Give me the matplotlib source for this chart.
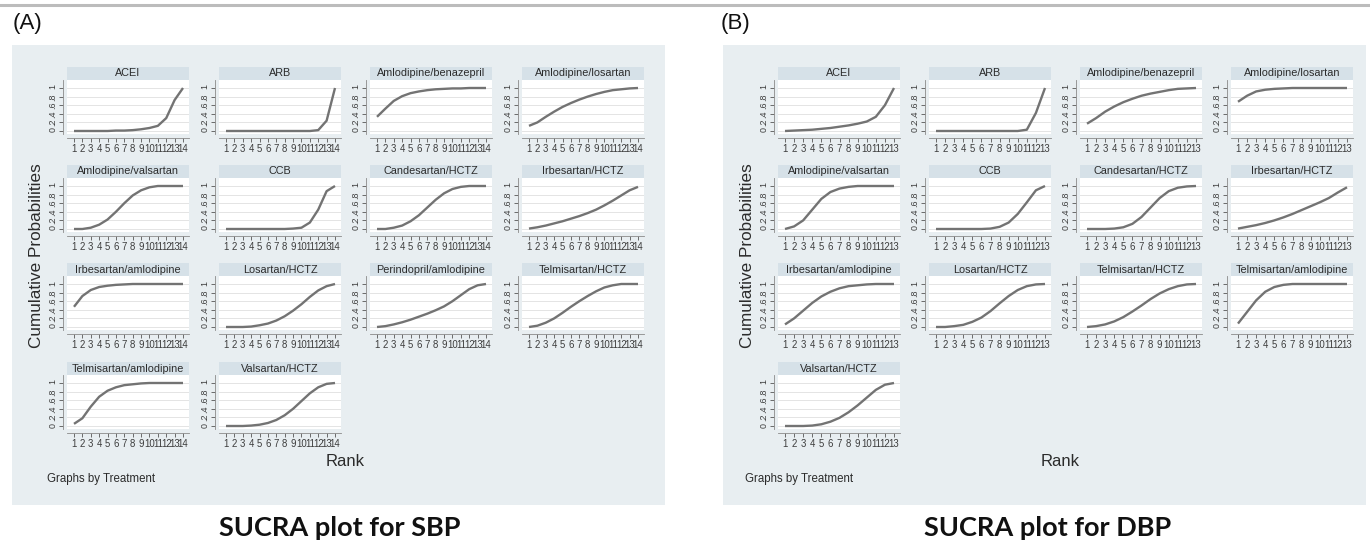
import matplotlib
matplotlib.use("Agg")
import matplotlib.pyplot as plt
from matplotlib.patches import Rectangle
from matplotlib.lines import Line2D

W, H = 1370, 548

# ---------------- data: SBP (14 ranks) ----------------
ranks_sbp = list(range(1, 15))
sbp_names = ["ACEI", "ARB", "Amlodipine/benazepril", "Amlodipine/losartan",
             "Amlodipine/valsartan", "CCB", "Candesartan/HCTZ", "Irbesartan/HCTZ",
             "Irbesartan/amlodipine", "Losartan/HCTZ", "Perindopril/amlodipine",
             "Telmisartan/HCTZ", "Telmisartan/amlodipine", "Valsartan/HCTZ"]
sbp_acei = [0, 0, 0, 0, 0, 0.01, 0.01, 0.02, 0.04, 0.07, 0.12, 0.30, 0.72, 1.0]
sbp_arb = [0, 0, 0, 0, 0, 0, 0, 0, 0, 0, 0, 0.02, 0.24, 1.0]
sbp_aml_ben = [0.33, 0.52, 0.70, 0.81, 0.88, 0.92, 0.95, 0.97, 0.98, 0.99, 0.99, 1.0, 1.0, 1.0]
sbp_aml_los = [0.12, 0.20, 0.33, 0.45, 0.56, 0.65, 0.73, 0.80, 0.86, 0.91, 0.95, 0.97, 0.99, 1.0]
sbp_aml_val = [0, 0, 0.03, 0.10, 0.22, 0.40, 0.60, 0.78, 0.90, 0.97, 1.0, 1.0, 1.0, 1.0]
sbp_ccb = [0, 0, 0, 0, 0, 0, 0, 0, 0.01, 0.03, 0.15, 0.45, 0.88, 1.0]
sbp_can_hctz = [0, 0, 0.03, 0.08, 0.18, 0.32, 0.50, 0.68, 0.83, 0.93, 0.98, 1.0, 1.0, 1.0]
sbp_irb_hctz = [0.01, 0.04, 0.08, 0.13, 0.18, 0.24, 0.30, 0.37, 0.45, 0.55, 0.66, 0.78, 0.90, 0.98]
sbp_irb_aml = [0.47, 0.72, 0.86, 0.93, 0.96, 0.98, 0.99, 1.0, 1.0, 1.0, 1.0, 1.0, 1.0, 1.0]
sbp_los_hctz = [0, 0, 0, 0.01, 0.04, 0.08, 0.15, 0.25, 0.38, 0.53, 0.70, 0.85, 0.95, 1.0]
sbp_per_aml = [0, 0.02, 0.06, 0.11, 0.17, 0.24, 0.31, 0.39, 0.48, 0.60, 0.74, 0.88, 0.97, 1.0]
sbp_tel_hctz = [0, 0.03, 0.10, 0.20, 0.33, 0.47, 0.60, 0.72, 0.83, 0.92, 0.97, 1.0, 1.0, 1.0]
sbp_tel_aml = [0.05, 0.18, 0.45, 0.68, 0.82, 0.90, 0.95, 0.97, 0.99, 1.0, 1.0, 1.0, 1.0, 1.0]
sbp_val_hctz = [0, 0, 0, 0.01, 0.03, 0.07, 0.14, 0.25, 0.40, 0.58, 0.76, 0.90, 0.98, 1.0]

# ---------------- data: DBP (13 ranks) ----------------
ranks_dbp = list(range(1, 14))
dbp_names = ["ACEI", "ARB", "Amlodipine/benazepril", "Amlodipine/losartan",
             "Amlodipine/valsartan", "CCB", "Candesartan/HCTZ", "Irbesartan/HCTZ",
             "Irbesartan/amlodipine", "Losartan/HCTZ", "Telmisartan/HCTZ",
             "Telmisartan/amlodipine", "Valsartan/HCTZ"]
dbp_acei = [0, 0.01, 0.02, 0.03, 0.05, 0.07, 0.10, 0.13, 0.17, 0.22, 0.33, 0.60, 1.0]
dbp_arb = [0, 0, 0, 0, 0, 0, 0, 0, 0, 0, 0.03, 0.42, 1.0]
dbp_aml_ben = [0.17, 0.30, 0.45, 0.57, 0.67, 0.75, 0.82, 0.87, 0.91, 0.95, 0.98, 0.99, 1.0]
dbp_aml_los = [0.68, 0.82, 0.92, 0.96, 0.98, 0.99, 1.0, 1.0, 1.0, 1.0, 1.0, 1.0, 1.0]
dbp_aml_val = [0, 0.06, 0.20, 0.45, 0.70, 0.86, 0.94, 0.98, 1.0, 1.0, 1.0, 1.0, 1.0]
dbp_ccb = [0, 0, 0, 0, 0, 0, 0.01, 0.05, 0.15, 0.35, 0.62, 0.90, 1.0]
dbp_can_hctz = [0, 0, 0, 0.01, 0.04, 0.12, 0.28, 0.50, 0.72, 0.88, 0.96, 0.99, 1.0]
dbp_irb_hctz = [0.01, 0.05, 0.09, 0.14, 0.20, 0.27, 0.35, 0.44, 0.53, 0.62, 0.72, 0.85, 0.97]
dbp_irb_aml = [0.06, 0.20, 0.38, 0.56, 0.71, 0.82, 0.90, 0.95, 0.97, 0.99, 1.0, 1.0, 1.0]
dbp_los_hctz = [0, 0, 0.02, 0.05, 0.12, 0.22, 0.37, 0.55, 0.72, 0.86, 0.95, 0.99, 1.0]
dbp_tel_hctz = [0, 0.02, 0.06, 0.13, 0.23, 0.36, 0.50, 0.65, 0.78, 0.88, 0.95, 0.99, 1.0]
dbp_tel_aml = [0.08, 0.35, 0.62, 0.82, 0.93, 0.98, 1.0, 1.0, 1.0, 1.0, 1.0, 1.0, 1.0]
dbp_val_hctz = [0, 0, 0, 0.01, 0.04, 0.10, 0.19, 0.32, 0.48, 0.66, 0.84, 0.96, 1.0]

sbp_curves = [sbp_acei, sbp_arb, sbp_aml_ben, sbp_aml_los, sbp_aml_val, sbp_ccb,
              sbp_can_hctz, sbp_irb_hctz, sbp_irb_aml, sbp_los_hctz, sbp_per_aml,
              sbp_tel_hctz, sbp_tel_aml, sbp_val_hctz]
dbp_curves = [dbp_acei, dbp_arb, dbp_aml_ben, dbp_aml_los, dbp_aml_val, dbp_ccb,
              dbp_can_hctz, dbp_irb_hctz, dbp_irb_aml, dbp_los_hctz, dbp_tel_hctz,
              dbp_tel_aml, dbp_val_hctz]

ytick_vals = [0, 0.2, 0.4, 0.6, 0.8, 1]
ytick_labels = ["0", ".2", ".4", ".6", ".8", "1"]

# ---------------- styling ----------------
BG = "#e8eef1"
STRIP = "#d6e1e8"
CURVE = "#737373"
TXT = "#2b2b2b"
TICKTXT = "#3c3c3c"
FONT = "Liberation Sans"

fig = plt.figure(figsize=(W / 100, H / 100), dpi=100)
fig.patch.set_facecolor("white")


def fx(x):
    return x / W


def fy(y):
    return 1 - y / H


# top rule
fig.add_artist(Line2D([0, 1], [fy(5), fy(5)], transform=fig.transFigure,
                      color="#bcbcbc", lw=2.2))

# panel backgrounds
for x0, x1 in [(12, 665), (723, 1366)]:
    fig.add_artist(Rectangle((fx(x0), fy(505)), fx(x1) - fx(x0), fy(45) - fy(505),
                             transform=fig.transFigure, facecolor=BG,
                             edgecolor="none", zorder=0))

row_tops = [67, 165, 263, 362]
strip_h = 13
plot_h = 54
plot_w = 122


def draw_panel(col_lefts, names, curves, ranks):
    n = len(ranks)
    for i, (name, vals) in enumerate(zip(names, curves)):
        r, c = divmod(i, 4)
        left = col_lefts[c]
        top = row_tops[r]
        # strip header
        fig.add_artist(Rectangle((fx(left), fy(top + strip_h)), fx(plot_w),
                                 fy(top) - fy(top + strip_h),
                                 transform=fig.transFigure, facecolor=STRIP,
                                 edgecolor="none", zorder=1))
        fig.text(fx(left + plot_w / 2), fy(top + strip_h / 2), name,
                 ha="center", va="center", fontsize=7.8, color=TXT,
                 family=FONT)
        ax = fig.add_axes([fx(left), fy(top + strip_h + plot_h), fx(plot_w),
                           plot_h / H])
        ax.set_facecolor("white")
        ax.plot(ranks, vals, color=CURVE, lw=1.7, solid_capstyle="butt",
                zorder=3)
        step = 109 / (n - 1)
        ax.set_xlim(1 - 7 / step, n + 6 / step)
        ax.set_ylim(-3 / 43, 1 + 8 / 43)
        ax.set_yticks(ytick_vals)
        ax.set_yticklabels(ytick_labels)
        ax.set_xticks(ranks)
        ax.set_xticklabels([str(k) for k in ranks])
        ax.tick_params(axis="both", direction="out", length=3, width=0.6,
                       color="#555555", pad=1.0, labelsize=6.9,
                       labelcolor=TICKTXT, labelfontfamily=FONT)
        ax.tick_params(axis="y", labelrotation=90, pad=1.0, labelsize=6.4)
        for lab in ax.get_yticklabels():
            lab.set_va("center")
            lab.set_ha("right")
        ax.grid(axis="y", color="#e4e4e4", lw=0.7)
        ax.set_axisbelow(True)
        for s in ["top", "right"]:
            ax.spines[s].set_visible(False)
        for s in ["left", "bottom"]:
            ax.spines[s].set_color("#8a8a8a")
            ax.spines[s].set_linewidth(0.6)
        ax.spines["left"].set_position(("outward", 3))
        ax.spines["bottom"].set_position(("outward", 3))


draw_panel([67, 219, 370, 522], sbp_names, sbp_curves, ranks_sbp)
draw_panel([778, 929, 1080, 1231], dbp_names, dbp_curves, ranks_dbp)

# panel texts
for lab, x in [("(A)", 13), ("(B)", 721)]:
    fig.text(fx(x), fy(24), lab, ha="left", va="center", fontsize=16,
             color="#111111", family=FONT)

for x in [37, 747]:
    fig.text(fx(x), fy(256), "Cumulative Probabilities", rotation=90,
             ha="center", va="center", fontsize=12.3, color=TXT, family=FONT)

for x in [345, 1060]:
    fig.text(fx(x), fy(462), "Rank", ha="center", va="center", fontsize=12,
             color=TXT, family=FONT)

for x in [47, 745]:
    fig.text(fx(x), fy(479), "Graphs by Treatment", ha="left", va="center",
             fontsize=8.3, color=TXT, family=FONT)

for lab, x in [("SUCRA plot for SBP", 340), ("SUCRA plot for DBP", 1048)]:
    fig.text(fx(x), fy(528), lab, ha="center", va="center", fontsize=19.5,
             fontweight="bold", color="#111111", family="Lato")

fig.savefig("out.png", dpi=100, facecolor="white")
